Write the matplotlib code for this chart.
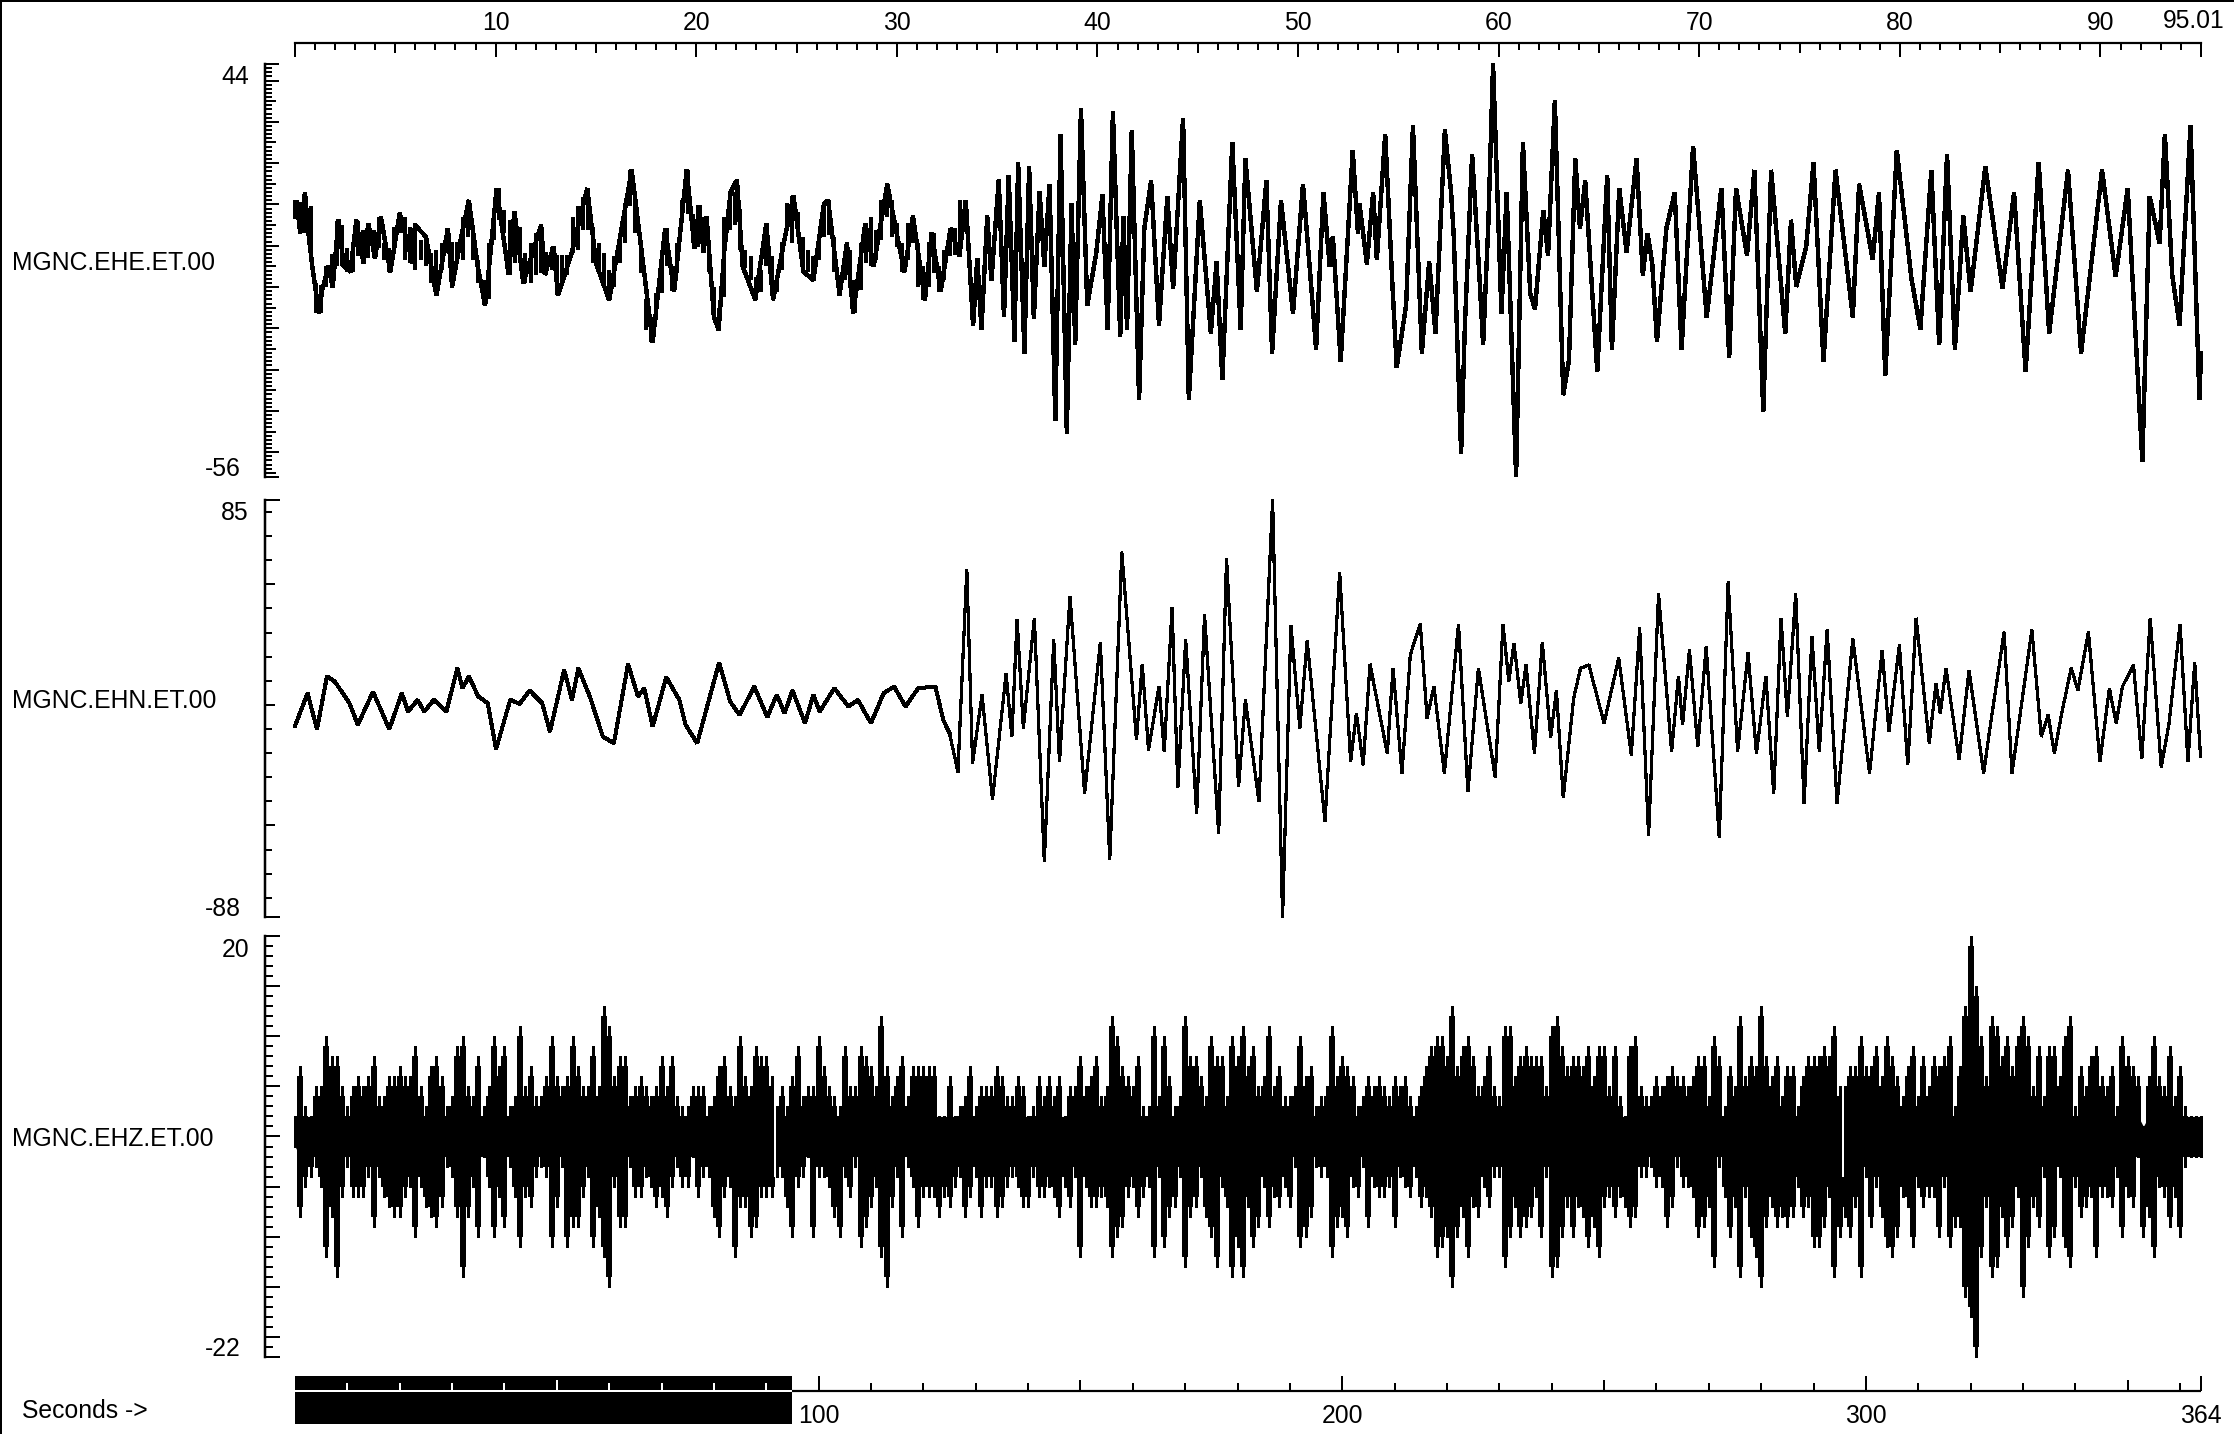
#Three component seismogram of station MGNC with its time scales
import numpy as np
import matplotlib
matplotlib.use("Agg")
import matplotlib.pyplot as plt
from matplotlib.lines import Line2D

#Figure size in pixels
W = 2234
H = 1434
PX = 0.72  # one pixel in points at dpi 100

plt.rcParams["font.family"] = ["Liberation Sans", "DejaVu Sans"]
TEXT_SIZE = 17.8

#Trace names and amplitude ranges
trace_names = ["MGNC.EHE.ET.00", "MGNC.EHN.ET.00", "MGNC.EHZ.ET.00"]
amp_top = [44, 85, 20]
amp_bottom = [-56, -88, -22]

#Time scales
total_seconds = 364
window_end = 95.01
top_labels = [10, 20, 30, 40, 50, 60, 70, 80, 90]
bottom_labels = [100, 200, 300, 364]

#EHE trace, turning points (seconds, counts)
ehe_t = [0, 0.3, 1, 1.9, 2.5, 3.3, 4.6, 5.2, 6.4, 7.2, 8.3, 9.3, 10.6, 11.7, 13.1, 14, 15.3, 16.4, 18.2, 20,
         22.5, 22.9, 25, 27, 29.2, 30, 31.5, 33.2, 34.9, 36.3, 37.2, 38.5, 40.8, 41.9, 43.6, 47, 47.7, 49.4, 50.2, 52.8,
         55.8, 57.5, 60, 64.3, 68.3, 70.7, 72.4, 74.8, 76.3, 77.2, 78, 78.6, 80, 80.9, 82, 83.2, 84.4, 85.5, 87.9, 90,
         91.3, 93.4, 95.2, 97.1, 99, 101, 101.8, 104, 105.4, 106.6, 108.9, 110.5, 113.1, 114.9, 116.4, 118, 120.3, 121.6, 123.3, 125.2,
         126.9, 128.1, 129.5, 130.3, 131.1, 132.2, 133, 134.4, 135.4, 136.3, 137.4, 138.1, 139.3, 140.2, 141.1, 142.2, 143.1, 144.1, 145.2, 146.2,
         147.4, 148.3, 149, 150.1, 151.3, 153, 154.2, 155.2, 156.2, 157.6, 158.2, 158.9, 159.8, 161.2, 162.2, 163.5, 165, 166.6, 167.7, 169.6,
         170.7, 172.8, 174.9, 176, 177.1, 179, 180.6, 181.5, 183.7, 185.5, 186.6, 188.3, 190.6, 192.5, 193.9, 195, 196.4, 197.6, 198.2, 199.7,
         202, 203, 203.3, 204.7, 205.9, 206.6, 208.2, 209.6, 210.4, 212.2, 213.5, 215.2, 216.6, 217.8, 219.6, 220.8, 221.3, 222.7, 223.4, 224.8,
         226.2, 226.9, 227.9, 228.8, 230.4, 231.4, 233.2, 234.5, 235.9, 236.8, 238.4, 239.3, 240.6, 242.2, 243.3, 244.5, 245.4, 246.4, 248.7, 250.6,
         251.5, 252.9, 254.3, 256.2, 257.4, 258.3, 259.2, 260.1, 261.9, 263.5, 264.8, 267, 269.6, 272.4, 273.9, 275.2, 277.3, 278.7, 280.4, 281.9,
         284.6, 285.7, 286.7, 288.6, 290, 291.9, 294.2, 297.5, 298.7, 301.3, 302.5, 303.7, 305.9, 308.7, 310.4, 312.5, 314, 315.5, 317, 318.6,
         320, 322.8, 326.1, 328.3, 330.5, 333, 335, 336.4, 338.6, 341.1, 345.1, 347.7, 350, 352.8, 354.2, 356.1, 357.1, 358.5, 359.9, 362,
         363.7, 364]
ehe_v = [7, 11, 3, 12.8, 3.8, -5, -16.4, -10.7, -5, -10, 6.2, -5, -6.3, 6.2, -4.3, 5.4, -3, 7, -6.3, 7.8,
         -4.3, 5, 2.2, -12, 4.2, -10, 0.6, 11, -5, -14.4, -3.5, 13.9, -7, 8.2, -9, 5, -7, -0.2, -12, -2,
         13.9, -4.3, -13.2, 18.3, -23.3, 4.2, -11.1, 18.3, -0.6, 9.8, -1.5, 7, -17.2, -20.4, -1, 13, 15.9, -5, -13.1, 5.4,
         -13.1, 1, 12, -6.3, -8.3, 10.1, 11, -11.9, 0.7, -16.4, 5.4, -5, 14.9, 3, -6.3, 7.2, -13.1, 3.2, -11.1, 4.2,
         -2.5, 11, -19.4, -3, -20.2, 7.2, -8.3, 15.9, -17.2, 17.1, -23.2, 20.2, -26, 19.1, -17.6, 13.1, -5, 14.9, -42.2, 27,
         -45.4, 10.2, -24, 33.2, -14.4, -1.9, 12.3, -20.2, 32.4, -22, 7, -20.2, 28, -37.2, 4.2, 15.7, -19.2, 12, -10.3, 30.8,
         -37.2, 11, -21.2, -3.9, -32.3, 25, -20.2, 21.1, -11.1, 15.7, -26, 11, -16.4, 14.9, -7.1, -25, 12.9, -5, 2.3, -28,
         23.1, 3, 10.1, -4.4, 12.9, -3.3, 27, -9.9, -29.4, -14.4, 29, -26, -3.9, -21.2, 28, 12.7, 2.2, -50.2, -20, 22.1,
         -7.5, -24, 5.4, 44, -16.4, 12.9, -55.9, 25, -11.5, -15.4, 8.6, -2.3, 35.2, -36.1, -27.7, 21.1, 4.2, 15.7, -30.5, 17.1,
         -25.2, 13.9, -1.5, 21.1, -7.1, 3, -4.3, -23.2, 4.2, 12.9, -25, 24.1, -17.3, 13.9, -27, 13.9, -2.3, 18.3, -40.2, 18.3,
         -21.2, 6.2, -9.9, -0.2, 20.2, -28, 18.3, -17.3, 14.9, -3.3, 12.9, -31.5, 23.1, -7.9, -20.2, 18.3, -24, 22.1, -25, 7.2,
         -11.1, 19.1, -10.2, 12.9, -30.5, 20.2, -21.2, -5.9, 18.3, -26, 18.3, -7.5, 13.9, -52.3, 11.9, 0.6, 27, -7.1, -19.2, 29,
         -37.2, -26]

#EHE noise band in the quiet first part, highest and lowest count in each second
ehe_band_hi = [11, 10.7, 12.8, 9.5, -9, -9.5, -5, -2, 6, 5,
               -0.6, -0.6, 6, 3.8, 5.4, 3.8, 7, 0.6, -0.6, 4.6,
               8.2, 7, 4.6, 5.4, 1.4, 2.2, -1.8, -1, 0.6, 4.2,
               1, 1, 7, 11, 4.6, -3.5, -8.3, 0.6, 7.4, 13.9,
               8.7, 6.2, 8.2, 4.6, -1.8, 0.6, 3, 5, -1.4, -0.2,
               -2.2, -2.2, -2.2, 7, 9.5, 11.9, 13.9, 4.6, 0.6, -1.8,
               -5.9, -2.6, 2.2, 10.3, 18.3, 11, -1.8, -13, -17.2, -11.5,
               -1, 4.2, -5, 0.6, 11, 18.3, 7.8, 9.8, 7, -1.8,
               -9.9, -15.2, 7, 12.9, 13.1, 9, -1, -2.6, -7.5, -5.9,
               5.4, -2.6, -8.3, 1, 10.3, 12, 8.2, 2.2, -1, -2.6,
               1, 10.1, 11, 2.2, -7.1, -3.9, -1, -8.3, 0.6, 5.4,
               7, 3.8, 11, 14.9, 11, 5.4, 0.6, 5.4, 7.2, 0.6,
               -5, 1, 3.2, -5, -1, 4.2, 4.2, 11, 11]
ehe_band_lo = [7, 3, 3, -1, -16.4, -16.4, -10, -10, -5, -5,
               -6.3, -6.3, -2.6, -4.3, -3, -3, -0.6, -3.5, -6.3, -1,
               3, -3.5, -4.3, -5.9, -3.5, -5, -9, -12, -5.9, -1.8,
               -10, -4.3, -3.5, 2.2, -3.5, -9, -14.4, -13, 1.4, 6.2,
               3, -7, -4.3, -4.3, -9, -9, -7, -6.7, -7, -5.9,
               -12, -9, -7, -1.8, -1, 3.8, 3.8, -4.3, -5.9, -9,
               -12.9, -10, -4.3, 0.6, 9.5, 3, -6.7, -20.4, -23.3, -18,
               -11.5, -5, -11, -6.7, 5.4, 7.8, 0.6, -0.2, -1.4, -6.3,
               -17.6, -20.2, -12.3, 3.8, 5, -1, -5.5, -8.3, -13.1, -11.1,
               -5, -8.3, -11.1, -5.9, 3.8, 0.6, 2.2, -6.3, -6.3, -8.3,
               -3.4, 2.2, 2.6, -6.3, -12.2, -8.3, -10.3, -16.4, -10.7, -4.3,
               -5, -3.4, 1.4, 7, 2.2, -0.2, -6.3, -3.4, 0.6, -9.9,
               -13.1, -9.9, -6.7, -11.1, -8.3, -2.6, -2.2, -1, 4.6]

#EHN trace, turning points (seconds, counts)
ehn_t = [0, 2.4, 4.2, 6.1, 7.6, 10.4, 12, 14.9, 18, 20.4, 21.6, 23.4, 24.7, 26.5, 28.9, 31, 32, 33.2, 35, 36.8,
         38.4, 41.1, 42.9, 44.8, 47.2, 48.7, 51.4, 52.9, 54.1, 56.3, 58.8, 60.9, 63.6, 65.5, 66.7, 68.3, 70.9, 73.4, 74.6, 76.8,
         81, 83.1, 84.9, 87.7, 90.2, 92, 93.5, 95, 97.4, 99, 100.2, 103, 105.7, 107.5, 110, 112.4, 114.4, 116.6, 119, 122.3,
         123.8, 125, 126.6, 128.3, 129.4, 131.2, 133.2, 135.8, 136.9, 137.9, 139.1, 141.2, 143.1, 144.9, 146, 148, 150.8, 153.8, 155.6, 157.9,
         160.7, 161.8, 163, 165, 166, 167.5, 168.6, 170.1, 172.2, 173.7, 176.4, 177.9, 180.2, 181.5, 184.1, 186.7, 188.6, 190.2, 191.9, 193.3,
         196.7, 199.5, 201.6, 202.7, 204, 205.3, 208.6, 209.7, 211.4, 213, 214.9, 216.2, 217.5, 219.5, 222.2, 224, 226, 229.2, 230.7, 231.8,
         232.8, 234.1, 235.1, 236.7, 238.2, 239.8, 240.9, 242.2, 244.2, 245.5, 247.1, 250, 252.8, 255.2, 256.8, 258.5, 260.4, 262.9, 264.2, 265,
         266.3, 267.9, 269.5, 272, 273.7, 275.5, 277.5, 279.1, 280.9, 282.4, 283.8, 285, 286.6, 288.2, 289.7, 291.1, 292.6, 294.5, 297.5, 300.7,
         303.1, 304.4, 306.4, 308, 309.6, 312.1, 313.4, 314.2, 315.3, 317.8, 319.7, 322.5, 323.5, 326.4, 327.9, 331.7, 333.5, 334.8, 336, 337.4,
         339.2, 340.5, 342.5, 344.7, 346.5, 347.8, 349, 351.1, 352.7, 354.3, 356.4, 357.9, 360, 361.5, 362.8, 363.9]
ehn_v = [-8.7, 4.8, -10.1, 11.8, 9.7, 0.7, -8.3, 5.5, -10.1, 4.8, -2.8, 2.1, -2.8, 2.1, -2.8, 15.2, 6.9, 11.8, 3.5, 0.7,
         -18.4, 2.1, 0.4, 6, 0.7, -11.1, 14.5, 2.1, 15.2, 3.5, -13.2, -15.9, 16.9, 3.5, 6.9, -9, 11.5, 2.1, -8.3, -15.9,
         17.6, 1.4, -4.2, 7.6, -5.1, 4.2, -3.5, 6, -7.6, 4.2, -2.8, 6.9, -0.7, 2.1, -7.6, 4.8, 7.6, -0.7, 6.9, 7.6,
         -6.2, -11.8, -27.7, 56.1, -24.2, 4.2, -39.2, 12.9, -13.2, 35.3, -9.7, 36, -65.1, 27, -23.5, 45, -36.7, 25.9, -64.1, 63.4,
         -14.5, 16.9, -18.7, 7.6, -19.4, 40.2, -34.2, 27, -45, 37.4, -53.3, 60.9, -33.9, 2.1, -40.2, 85, -88, 32.8, -9.7, 26.6,
         -48.5, 55.1, -23.5, -3.5, -24.9, 16.9, -20.1, 15.2, -28.4, 20.8, 33.7, -5.5, 7.6, -28.4, 33.5, -36, 15.2, -30, 33.5, 9.7,
         25.6, 0.7, 16.6, -20.1, 26, -13.4, 6, -38.4, 2.8, 15.2, 16.6, -7.6, 19.4, -20.8, 31.9, -54.3, 46, -19.4, 11.8, -8.3,
         22.9, -17.3, 24.2, -55, 51, -19.4, 21.5, -20.1, 11.8, -36.7, 36, -4.8, 46, -40.9, 28.4, -19.4, 31.2, -40.9, 27.4, -28.4,
         22.6, -11.1, 24.9, -24.9, 36, -15.9, 9, -3.5, 15.2, -22.6, 14.3, -28.4, -12.5, 30.2, -28.4, 31.2, -13.2, -4.2, -20.1, -3.5,
         15.2, 6.2, 30.2, -23.5, 6.9, -7.6, 7.6, 16.6, -22.2, 36, -25.9, -7.6, 33.5, -23.5, 17.7, -21.2]

#EHZ trace, highest and lowest count in each second
ehz_hi = [2, 7, 3, 2, 5, 5, 10, 8, 8, 5,
          3, 5, 6, 5, 6, 8, 4, 4, 6, 6,
          7, 6, 6, 9, 5, 3, 7, 8, 6, 3,
          4, 9, 10, 5, 4, 8, 3, 5, 10, 7,
          9, 3, 4, 11, 5, 7, 4, 4, 6, 10,
          6, 5, 6, 10, 7, 5, 5, 9, 5, 13,
          11, 6, 8, 8, 4, 5, 6, 5, 4, 5,
          8, 5, 8, 4, 3, 3, 5, 5, 5, 3,
          4, 7, 8, 5, 4, 10, 6, 5, 9, 8,
          8, 6, 3, 5, 3, 6, 9, 4, 5, 5,
          10, 7, 5, 4, 3, 9, 5, 5, 9, 8,
          7, 5, 12, 7, 4, 6, 8, 4, 7, 7,
          7, 7, 7, 2, 2, 6, 2, 3, 4, 7,
          3, 5, 5, 5, 7, 6, 4, 4, 6, 5,
          2, 3, 6, 4, 6, 4, 6, 2, 5, 5,
          8, 5, 6, 8, 4, 5, 12, 10, 7, 6,
          5, 8, 3, 3, 11, 4, 10, 6, 3, 4,
          12, 8, 8, 6, 4, 10, 8, 8, 4, 10,
          8, 11, 7, 9, 5, 6, 11, 5, 7, 4,
          4, 5, 10, 6, 7, 3, 4, 5, 11, 6,
          8, 7, 6, 3, 4, 6, 5, 6, 5, 4,
          6, 5, 6, 4, 3, 5, 7, 9, 10, 10,
          8, 13, 7, 9, 10, 8, 5, 6, 9, 5,
          4, 11, 11, 6, 8, 9, 8, 8, 8, 5,
          11, 12, 9, 7, 8, 8, 7, 9, 6, 9,
          9, 5, 9, 4, 2, 9, 10, 5, 4, 4,
          6, 5, 6, 7, 6, 6, 5, 6, 8, 8,
          4, 10, 8, 3, 7, 5, 12, 6, 8, 7,
          13, 8, 6, 8, 4, 7, 7, 3, 6, 8,
          8, 8, 9, 8, 11, 5, 5, 7, 7, 10,
          7, 7, 9, 6, 10, 8, 6, 4, 7, 9,
          4, 8, 5, 8, 7, 8, 10, 3, 7, 13,
          20, 15, 10, 6, 12, 11, 8, 10, 7, 10,
          12, 10, 5, 9, 4, 9, 9, 6, 10, 12,
          3, 7, 5, 8, 9, 6, 5, 7, 3, 10,
          8, 7, 6, 1, 6, 10, 6, 5, 9, 4,
          7, 3, 2, 2, 2]
ehz_lo = [-1, -8, -5, -4, -3, -5, -12, -8, -14, -6,
          -3, -6, -6, -6, -4, -9, -4, -6, -7, -8,
          -8, -6, -5, -10, -5, -7, -8, -9, -7, -3,
          -4, -8, -14, -8, -5, -10, -2, -5, -10, -6,
          -9, -3, -6, -11, -6, -7, -4, -3, -4, -11,
          -7, -3, -11, -9, -9, -6, -4, -11, -8, -12,
          -15, -5, -9, -9, -3, -6, -6, -4, -5, -7,
          -6, -8, -5, -3, -5, -5, -2, -6, -4, -4,
          -8, -10, -6, -5, -12, -7, -7, -10, -9, -6,
          -6, -6, -4, -4, -7, -10, -5, -4, -2, -10,
          -4, -4, -5, -8, -10, -4, -6, -3, -11, -9,
          -7, -5, -12, -15, -7, -4, -10, -3, -5, -9,
          -6, -6, -6, -8, -6, -7, -5, -4, -8, -6,
          -4, -8, -5, -5, -8, -7, -5, -4, -5, -7,
          -7, -4, -6, -6, -5, -6, -8, -5, -7, -4,
          -12, -5, -7, -7, -6, -7, -12, -10, -9, -6,
          -5, -8, -6, -5, -12, -4, -11, -8, -7, -4,
          -13, -8, -7, -4, -8, -10, -13, -5, -7, -14,
          -11, -14, -7, -11, -9, -5, -9, -6, -7, -5,
          -7, -3, -11, -10, -8, -3, -4, -4, -12, -9,
          -8, -10, -5, -6, -3, -9, -5, -6, -6, -5,
          -9, -4, -5, -6, -4, -7, -6, -8, -12, -11,
          -10, -15, -10, -8, -12, -7, -8, -5, -7, -4,
          -4, -13, -10, -7, -10, -9, -8, -6, -10, -4,
          -14, -13, -10, -7, -10, -7, -8, -11, -9, -12,
          -7, -6, -8, -6, -7, -9, -8, -4, -4, -3,
          -5, -5, -9, -7, -3, -5, -5, -6, -10, -9,
          -7, -13, -3, -6, -10, -7, -14, -6, -10, -12,
          -15, -9, -7, -9, -8, -9, -8, -5, -8, -7,
          -11, -11, -9, -6, -14, -10, -8, -10, -7, -14,
          -4, -9, -5, -8, -11, -12, -10, -6, -7, -11,
          -5, -7, -6, -6, -10, -5, -11, -9, -9, -16,
          -18, -22, -12, -7, -14, -13, -8, -11, -9, -6,
          -16, -11, -7, -9, -4, -12, -10, -4, -11, -13,
          -5, -8, -7, -6, -12, -6, -6, -7, -4, -10,
          -6, -7, -2, -10, -8, -12, -5, -6, -9, -6,
          -10, -3, -2, -2, -2]
ehz_gaps = [91.7, 295.7]


def px_axes(fig, left, top, right, bottom):
    return fig.add_axes([left / W, 1 - bottom / H, (right - left) / W, (bottom - top) / H])


def set_ticks(axis, values, lengths, width=2):
    axis.set_ticks(values)
    axis.set_ticklabels([""] * len(values))
    for tick, length in zip(axis.get_major_ticks(), lengths):
        for line in (tick.tick1line, tick.tick2line):
            line.set_markersize(length * PX)
            line.set_markeredgewidth(width * PX)


def px_text(x, y, s, ha="left"):
    fig.text(x / W, 1 - y / H, s, ha=ha, va="center", fontsize=TEXT_SIZE, color="black")


fig = plt.figure(figsize=(W / 100, H / 100), dpi=100, facecolor="white")

#Border on the left and top edges
fig.add_artist(Line2D([1 / W, 1 / W], [0, 1], color="black", lw=2 * PX))
fig.add_artist(Line2D([0, 1], [1 - 1 / H, 1 - 1 / H], color="black", lw=2 * PX))

#Trace panels
tops = [64, 500, 936]
bottoms = [477, 917, 1357]
axes = []
for i in range(3):
    ax = px_axes(fig, 295, tops[i], 2201, bottoms[i])
    ax.set_xlim(0, total_seconds)
    ax.set_ylim(amp_bottom[i], amp_top[i])
    ax.patch.set_visible(False)
    for side in ["top", "right", "bottom"]:
        ax.spines[side].set_visible(False)
    ax.spines["left"].set_position(("outward", 30 * PX))
    ax.spines["left"].set_linewidth(2.5 * PX)
    ax.spines["left"].set_bounds(amp_bottom[i], amp_top[i])
    ax.set_xticks([])
    axes.append(ax)

#Amplitude ticks: one count steps on EHE and EHZ, ten count steps on EHN
values = list(range(-56, 45))
lengths = [14 if v % 10 == 0 or v in (-56, 44) else 11 if v % 5 == 0 else 7 for v in values]
axes[0].tick_params(axis="y", direction="in")
set_ticks(axes[0].yaxis, values, lengths)

values = [-88] + list(range(-80, 81, 10)) + [85]
lengths = [15 if v in (-88, 85) else 10 if v % 50 == 0 else 7 for v in values]
axes[1].tick_params(axis="y", direction="in")
set_ticks(axes[1].yaxis, values, lengths)

values = list(range(-22, 21))
lengths = [15 if v % 5 == 0 or v in (-22, 20) else 8 for v in values]
axes[2].tick_params(axis="y", direction="in")
set_ticks(axes[2].yaxis, values, lengths)

#EHE: noise band first, then the whole trace
axes[0].vlines(np.arange(len(ehe_band_hi)), ehe_band_lo, ehe_band_hi, color="black", lw=3.8 * PX,
               antialiased=False, clip_on=False)
axes[0].plot(ehe_t, ehe_v, color="black", lw=3.4 * PX, clip_on=False, antialiased=False, solid_joinstyle="bevel")

#EHN is thicker while it is quiet
t = np.array(ehn_t)
v = np.array(ehn_v)
quiet = t <= 125
axes[1].plot(t[quiet], v[quiet], color="black", lw=3 * PX, clip_on=False, antialiased=False, solid_joinstyle="bevel")
axes[1].plot(t[~quiet], v[~quiet], color="black", lw=2.2 * PX, clip_on=False, antialiased=False, solid_joinstyle="bevel")
axes[1].plot([t[quiet][-1], t[~quiet][0]], [v[quiet][-1], v[~quiet][0]], color="black", lw=2.2 * PX, antialiased=False)

#EHZ: thin spikes over a thicker body and a solid centre
ehz_t = np.arange(len(ehz_hi))
hi = np.array(ehz_hi)
lo = np.array(ehz_lo)
axes[2].vlines(ehz_t, lo, hi, color="black", lw=2.6 * PX, antialiased=False, clip_on=False)
axes[2].vlines(ehz_t, np.minimum(lo + 1, 0), np.maximum(hi - 1, 0), color="black", lw=4.2 * PX, antialiased=False)
axes[2].fill_between(ehz_t, np.minimum(hi, 2), np.maximum(lo, -2), color="black", lw=0, antialiased=False)
axes[2].vlines(ehz_gaps, -4, 5, color="white", lw=2 * PX, antialiased=False)

#Trace names and amplitude limits
name_y = [263, 701, 1139]
for i in range(3):
    px_text(12, name_y[i], trace_names[i])
px_text(249, 77, str(amp_top[0]), ha="right")
px_text(241, 469, str(amp_bottom[0]), ha="right")
px_text(249, 513, str(amp_top[1]), ha="right")
px_text(241, 909, str(amp_bottom[1]), ha="right")
px_text(249, 950, str(amp_top[2]), ha="right")
px_text(241, 1349, str(amp_bottom[2]), ha="right")

#Window scale along the top
ax_top = px_axes(fig, 295, 43, 2201, 57)
ax_top.set_xlim(0, window_end)
ax_top.set_ylim(0, 1)
ax_top.patch.set_visible(False)
for side in ["left", "right", "bottom"]:
    ax_top.spines[side].set_visible(False)
ax_top.spines["top"].set_linewidth(2.2 * PX)
ax_top.set_yticks([])
ax_top.xaxis.tick_top()
ax_top.tick_params(axis="x", direction="in", pad=0)
values = list(range(0, 96)) + [window_end]
values.remove(95)
lengths = [14 if v % 10 == 0 or v == window_end else 10 if v % 5 == 0 else 7 for v in values]
set_ticks(ax_top.xaxis, values, lengths)
for v in top_labels:
    ax_top.text(v, 2.4, str(v), transform=ax_top.get_xaxis_transform(), ha="center", va="center",
                fontsize=TEXT_SIZE, clip_on=False)
px_text(2194, 21, "95.01", ha="center")

#Seconds scale with the selected window in black
ax_sec = px_axes(fig, 295, 1376, 2201, 1424)
ax_sec.set_xlim(0, total_seconds)
ax_sec.set_ylim(0, 1)
ax_sec.patch.set_visible(False)
for side in ["left", "right", "top", "bottom"]:
    ax_sec.spines[side].set_visible(False)
ax_sec.spines["bottom"].set_position(("axes", 0.6875))
ax_sec.set_yticks([])
ax_sec.tick_params(axis="x", direction="in", pad=0)
values = list(range(0, 361, 10)) + [total_seconds]
lengths = [15 if v % 100 == 0 or v == total_seconds else 11 if v % 50 == 0 else 8 for v in values]
set_ticks(ax_sec.xaxis, values, lengths)
for tick, v in zip(ax_sec.xaxis.get_major_ticks(), values):
    if v < window_end:
        tick.tick1line.set_markeredgecolor("white")
    if v == 0:
        tick.tick1line.set_visible(False)
ax_sec.axvspan(0, window_end, 0.7083, 1, color="black", lw=0, antialiased=False, zorder=1)
ax_sec.axvspan(0, window_end, 0, 0.6667, color="black", lw=0, antialiased=False, zorder=1)
ax_sec.hlines(0.6875, window_end, total_seconds, transform=ax_sec.get_xaxis_transform(), color="black", lw=2.2 * PX)
for v in bottom_labels:
    ax_sec.text(v, 0.17, str(v), transform=ax_sec.get_xaxis_transform(), ha="center", va="center",
                fontsize=TEXT_SIZE, clip_on=False)
px_text(22, 1411, "Seconds ->")

fig.savefig("out.png", dpi=100, facecolor="white")
print(len(ehe_t), len(ehe_v), len(ehe_band_hi), len(ehe_band_lo), len(ehn_t), len(ehn_v), len(ehz_hi), len(ehz_lo))
